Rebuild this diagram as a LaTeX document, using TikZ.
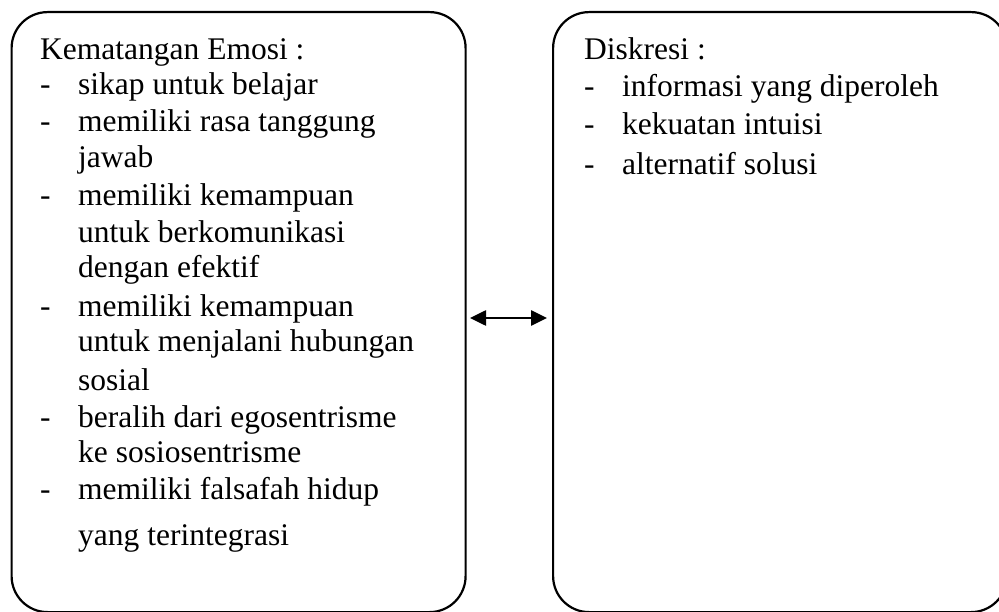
\documentclass[tikz,border=0pt]{standalone}
\usepackage{fontspec}
\setmainfont{Liberation Serif}
\usetikzlibrary{arrows.meta}
\tikzset{
 panel/.style={draw=black,line width=2.2pt,rounded corners=36pt,inner sep=0pt,minimum width=454pt,minimum height=600pt,anchor=north west},
 txt/.style={anchor=base west,inner sep=0pt,font=\fontsize{31.5}{36}\selectfont},
 link/.style={{Stealth[length=16pt,width=15pt,inset=0pt]}-{Stealth[length=16pt,width=15pt,inset=0pt]},line width=2.6pt}
}
\begin{document}
\begin{tikzpicture}[x=1pt,y=-1pt]
\useasboundingbox (0,0) rectangle (999,612);
\clip (0,0) rectangle (999,612);
\node[panel] (L) at (10.5,11) {};
\node[panel] (R) at (552,11) {};
\coordinate (a) at (470,318);
\coordinate (b) at (547,318);
\draw[link] (a) -- (b);
\foreach \n/\y/\x/\t in {
 l1/60/40/{Kematangan Emosi :},
 l2/95/40/{-},l3/95/78/{sikap untuk belajar},
 l4/132/40/{-},l5/132/78/{memiliki rasa tanggung},
 l6/168/78/{jawab},
 l7/206/40/{-},l8/206/78/{memiliki kemampuan},
 l9/243/78/{untuk berkomunikasi},
 l10/278/78/{dengan efektif},
 l11/317/40/{-},l12/317/78/{memiliki kemampuan},
 l13/352/78/{untuk menjalani hubungan},
 l14/390/78/{sosial},
 l15/427/40/{-},l16/427/78/{beralih dari egosentrisme},
 l17/462/78/{ke sosiosentrisme},
 l18/499/40/{-},l19/499/78/{memiliki falsafah hidup},
 l20/545/78/{yang terintegrasi},
 r1/60/584/{Diskresi :},
 r2/97/584/{-},r3/97/622/{informasi yang diperoleh},
 r4/135/584/{-},r5/135/622/{kekuatan intuisi},
 r6/175/584/{-},r7/175/622/{alternatif solusi}}
 {\node[txt] (\n) at (\x,\y) {\t};}
\end{tikzpicture}
\end{document}
